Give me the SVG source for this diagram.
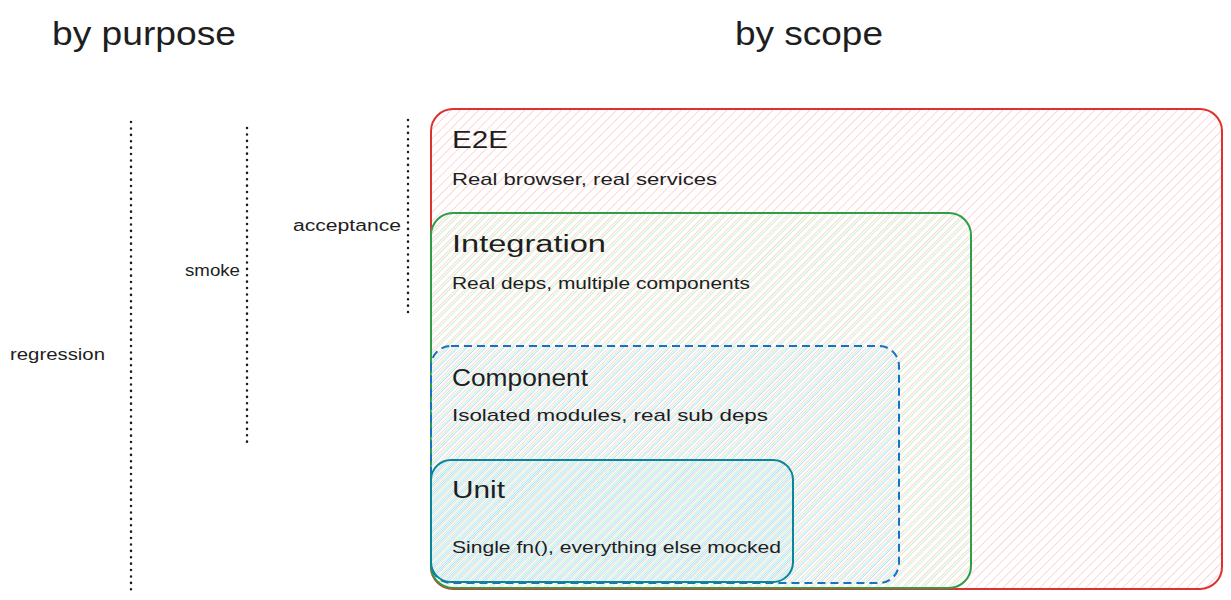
<svg xmlns="http://www.w3.org/2000/svg" width="1231" height="600" viewBox="0 0 1231 600">
<defs>
<pattern id="hr" width="6.5" height="6.5" patternUnits="userSpaceOnUse" patternTransform="rotate(45)"><line x1="0" y1="0" x2="0" y2="6.5" stroke="#ffc9c9" stroke-width="1.5"/></pattern>
<pattern id="hg" width="6.5" height="6.5" patternUnits="userSpaceOnUse" patternTransform="rotate(45) translate(2 0)"><line x1="0" y1="0" x2="0" y2="6.5" stroke="#b2f2bb" stroke-width="1.5"/></pattern>
<pattern id="hb" width="6.5" height="6.5" patternUnits="userSpaceOnUse" patternTransform="rotate(45) translate(3.7 0)"><line x1="0" y1="0" x2="0" y2="6.5" stroke="#a5d8ff" stroke-width="1.5"/></pattern>
<pattern id="ht" width="6.5" height="6.5" patternUnits="userSpaceOnUse" patternTransform="rotate(45) translate(5.2 0)"><line x1="0" y1="0" x2="0" y2="6.5" stroke="#99e9f2" stroke-width="1.5"/></pattern>
</defs>
<style>
text{font-family:"Liberation Sans","Noto Sans",sans-serif;fill:#1e1e1e}
.title{font-size:34px}
.h{font-size:23px}
.d{font-size:17px}
.lbl{font-size:16px}
.dot{stroke:#1e1e1e;stroke-width:2.5;stroke-dasharray:0.1 6.3;stroke-linecap:round;fill:none}
</style>
<rect width="1231" height="600" fill="#ffffff"/>
<g id="titles">
<text class="title" x="52" y="45" textLength="184" lengthAdjust="spacingAndGlyphs">by purpose</text>
<text class="title" x="735" y="45" textLength="148" lengthAdjust="spacingAndGlyphs">by scope</text>
</g>
<g id="connectors">
<line class="dot" x1="131" y1="122" x2="131" y2="591"/>
<line class="dot" x1="247" y1="128" x2="247" y2="446"/>
<line class="dot" x1="408" y1="120" x2="408" y2="314"/>
</g>
<g id="purpose-labels">
<text class="lbl" x="10" y="360" textLength="95" lengthAdjust="spacingAndGlyphs">regression</text>
<text class="lbl" x="185" y="276" textLength="55" lengthAdjust="spacingAndGlyphs">smoke</text>
<text class="lbl" x="293" y="231" textLength="108" lengthAdjust="spacingAndGlyphs">acceptance</text>
</g>
<g id="e2e">
<rect x="431" y="109" width="791" height="480" rx="22" fill="url(#hr)" stroke="#e03131" stroke-width="2"/>
<text class="h" x="452" y="148" textLength="56" lengthAdjust="spacingAndGlyphs">E2E</text>
<text class="d" x="452" y="185" textLength="265" lengthAdjust="spacingAndGlyphs">Real browser, real services</text>
</g>
<g id="integration">
<rect x="431" y="213" width="540" height="375" rx="22" fill="url(#hg)" stroke="#2f9e44" stroke-width="2"/>
<text class="h" x="452" y="252" textLength="154" lengthAdjust="spacingAndGlyphs">Integration</text>
<text class="d" x="452" y="289" textLength="298" lengthAdjust="spacingAndGlyphs">Real deps, multiple components</text>
</g>
<g id="component">
<rect x="431" y="346" width="468" height="237" rx="20" fill="url(#hb)" stroke="#1971c2" stroke-width="2" stroke-dasharray="8 5"/>
<text class="h" x="452" y="386" textLength="136" lengthAdjust="spacingAndGlyphs">Component</text>
<text class="d" x="452" y="421" textLength="316" lengthAdjust="spacingAndGlyphs">Isolated modules, real sub deps</text>
</g>
<g id="unit">
<rect x="431" y="460" width="362" height="122" rx="20" fill="url(#ht)" stroke="#0c8599" stroke-width="2"/>
<text class="h" x="452" y="498" textLength="53" lengthAdjust="spacingAndGlyphs">Unit</text>
<text class="d" x="452" y="553" textLength="329" lengthAdjust="spacingAndGlyphs">Single fn(), everything else mocked</text>
</g>
</svg>
